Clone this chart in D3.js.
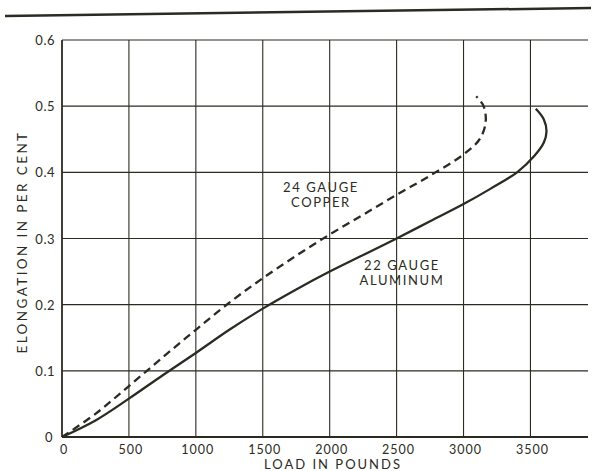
<!DOCTYPE html>
<html>
<head>
<meta charset="utf-8">
<script src="https://cdn.jsdelivr.net/npm/d3@7"></script>
<style>
  body { margin: 0; background: #fff; }
  svg text { font-family: Lato, "DejaVu Sans", sans-serif; fill: #2b2b22; }
</style>
</head>
<body>
<svg width="596" height="471"></svg>
<script>
// load (lb) vs elongation (%)
var aluminumLoad = [0, 250, 500, 750, 1000, 1250, 1500, 1750, 2000, 2250, 2500, 2750, 3000, 3200, 3400, 3530, 3600, 3620, 3600, 3540];
var aluminumElong = [0, 0.025, 0.058, 0.093, 0.127, 0.162, 0.194, 0.223, 0.25, 0.275, 0.3, 0.326, 0.352, 0.375, 0.4, 0.425, 0.445, 0.462, 0.48, 0.496];

var copperLoad = [0, 250, 500, 750, 1000, 1250, 1500, 1750, 2000, 2250, 2500, 2750, 3000, 3120, 3165, 3150, 3095];
var copperElong = [0, 0.035, 0.077, 0.12, 0.162, 0.203, 0.24, 0.274, 0.306, 0.336, 0.366, 0.395, 0.427, 0.45, 0.475, 0.5, 0.515];

var xTicks = [0, 500, 1000, 1500, 2000, 2500, 3000, 3500];
var yTicks = [0, 0.1, 0.2, 0.3, 0.4, 0.5, 0.6];
var xMax = 3930;

var svg = d3.select("svg");
var ink = "#2b2b22";

var x = d3.scaleLinear().domain([0, xMax]).range([62, 588]);
var y = d3.scaleLinear().domain([0, 0.6]).range([437, 40]);

// heavy rule across the top of the page
svg.append("line")
    .attr("x1", 5).attr("y1", 16).attr("x2", 591).attr("y2", 8)
    .attr("stroke", ink).attr("stroke-width", 2.5);

// grid
var grid = svg.append("g").attr("stroke", ink);

grid.selectAll("line.v")
    .data(xTicks)
    .enter().append("line")
      .attr("class", "v")
      .attr("x1", function(d) { return x(d); })
      .attr("x2", function(d) { return x(d); })
      .attr("y1", y(0.6))
      .attr("y2", y(0))
      .attr("stroke-width", function(d) { return d === 0 ? 1.8 : 1.1; });

grid.selectAll("line.h")
    .data(yTicks)
    .enter().append("line")
      .attr("class", "h")
      .attr("x1", x(0))
      .attr("x2", x(xMax))
      .attr("y1", function(d) { return y(d); })
      .attr("y2", function(d) { return y(d); })
      .attr("stroke-width", function(d) { return d === 0 ? 1.8 : 1.1; });

// tick labels
svg.append("g").selectAll("text")
    .data(xTicks)
    .enter().append("text")
      .attr("x", function(d) { return x(d) + 2; })
      .attr("y", 454)
      .attr("text-anchor", "middle")
      .attr("font-size", 12.5)
      .attr("letter-spacing", 1)
      .text(function(d) { return d; });

svg.append("g").selectAll("text")
    .data(yTicks)
    .enter().append("text")
      .attr("x", function(d) { return d === 0 ? x(0) - 9 : x(0) - 7; })
      .attr("y", function(d) { return y(d) + 5; })
      .attr("text-anchor", "end")
      .attr("font-size", 13)
      .attr("letter-spacing", 0.5)
      .text(function(d) { return d === 0 ? "0" : d3.format(".1f")(d); });

// axis titles
svg.append("text")
    .attr("x", 333).attr("y", 469)
    .attr("text-anchor", "middle")
    .attr("font-size", 13)
    .attr("letter-spacing", 2)
    .text("LOAD IN POUNDS");

svg.append("text")
    .attr("transform", "translate(27,242) rotate(-90)")
    .attr("text-anchor", "middle")
    .attr("font-size", 13.5)
    .attr("letter-spacing", 2.4)
    .text("ELONGATION IN PER CENT");

// curves
var line = d3.line()
    .x(function(d) { return x(d[0]); })
    .y(function(d) { return y(d[1]); })
    .curve(d3.curveCatmullRom.alpha(0.5));

svg.append("path")
    .datum(d3.zip(aluminumLoad, aluminumElong))
    .attr("d", line)
    .attr("fill", "none")
    .attr("stroke", ink)
    .attr("stroke-width", 2.3);

svg.append("path")
    .datum(d3.zip(copperLoad, copperElong))
    .attr("d", line)
    .attr("fill", "none")
    .attr("stroke", ink)
    .attr("stroke-width", 2.3)
    .attr("stroke-dasharray", "8,5");

// curve labels
function label(lines, load, elong) {
  svg.append("g").selectAll("text")
      .data(lines)
      .enter().append("text")
        .attr("x", x(load))
        .attr("y", function(d, i) { return y(elong) + i * 15; })
        .attr("text-anchor", "middle")
        .attr("font-size", 13)
        .attr("letter-spacing", 1.6)
        .text(function(d) { return d; });
}
label(["24 GAUGE", "COPPER"], 1935, 0.37);
label(["22 GAUGE", "ALUMINUM"], 2540, 0.252);
</script>
</body>
</html>
